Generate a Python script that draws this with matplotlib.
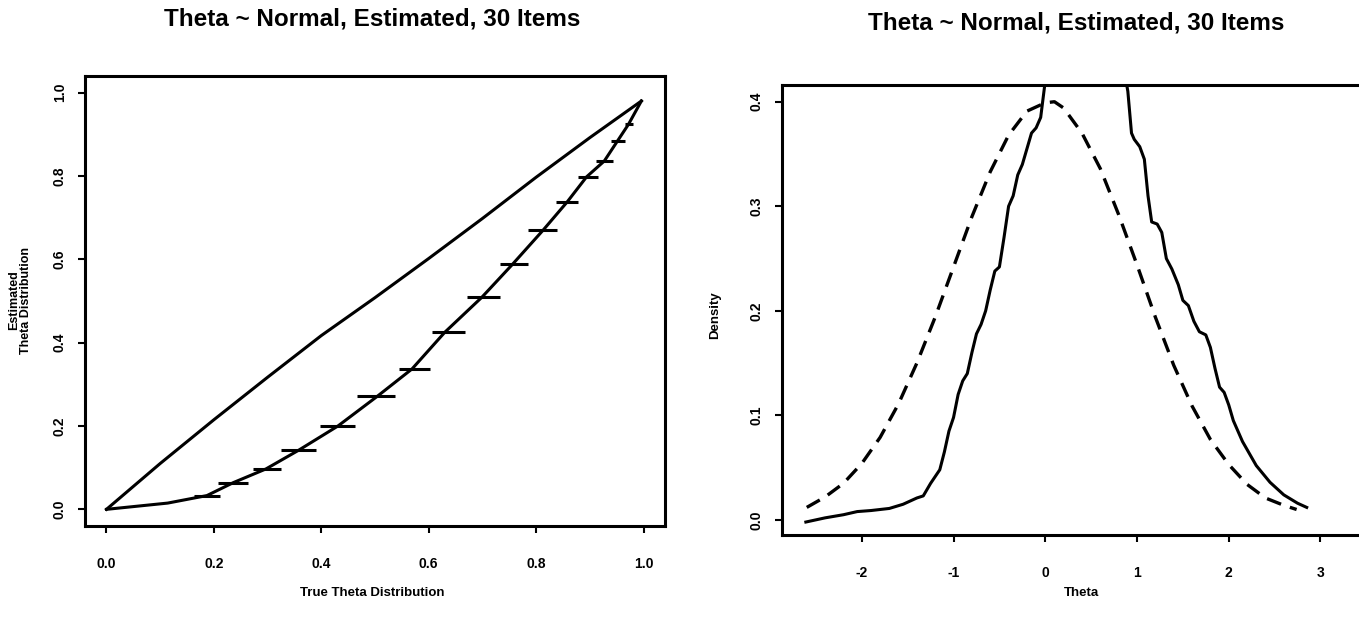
import numpy as np
import matplotlib
matplotlib.use("Agg")
import matplotlib.pyplot as plt

plt.rcParams["font.family"] = ["Liberation Sans", "DejaVu Sans"]
plt.rcParams["font.weight"] = "bold"

title = "Theta ~ Normal, Estimated, 30 Items"

# left panel: estimated vs true theta distribution
diag_x = [0.0, 0.1, 0.2, 0.3, 0.4, 0.5, 0.6, 0.7, 0.8, 0.9, 0.996]
diag_y = [0.0, 0.11, 0.215, 0.317, 0.417, 0.508, 0.602, 0.698, 0.797, 0.892, 0.98]

est_x = [0.0, 0.114, 0.187, 0.236, 0.297, 0.358, 0.431, 0.504, 0.569, 0.63,
         0.699, 0.756, 0.813, 0.858, 0.894, 0.927, 0.951, 0.972, 0.996]
est_y = [0.0, 0.015, 0.033, 0.064, 0.097, 0.142, 0.2, 0.271, 0.337, 0.425,
         0.509, 0.588, 0.67, 0.738, 0.798, 0.836, 0.883, 0.924, 0.98]
bar_lo = [0.0, 0.114, 0.163, 0.207, 0.272, 0.325, 0.398, 0.467, 0.545, 0.606,
          0.671, 0.732, 0.785, 0.837, 0.878, 0.911, 0.94, 0.965, 0.996]
bar_hi = [0.0, 0.114, 0.211, 0.264, 0.325, 0.39, 0.463, 0.537, 0.602, 0.667,
          0.732, 0.785, 0.839, 0.878, 0.915, 0.943, 0.965, 0.98, 0.996]

# right panel: densities
norm_x = [-2.6, -2.4, -2.2, -2.0, -1.8, -1.6, -1.4, -1.2, -1.0, -0.8, -0.6, -0.4,
          -0.2, 0.0, 0.1, 0.2, 0.4, 0.6, 0.8, 1.0, 1.2, 1.4, 1.6, 1.8, 2.0, 2.2,
          2.4, 2.6, 2.74]
norm_y = [0.012, 0.022, 0.035, 0.054, 0.079, 0.111, 0.15, 0.194, 0.242, 0.29,
          0.333, 0.368, 0.391, 0.399, 0.4, 0.394, 0.37, 0.336, 0.292, 0.244,
          0.194, 0.148, 0.109, 0.077, 0.053, 0.034, 0.021, 0.014, 0.01]

est_dx = [-2.61, -2.4, -2.2, -2.05, -1.9, -1.7, -1.55, -1.4, -1.33, -1.25, -1.15,
          -1.1, -1.05, -1.0, -0.95, -0.9, -0.85, -0.8, -0.75, -0.7, -0.65, -0.6,
          -0.55, -0.5, -0.45, -0.4, -0.35, -0.3, -0.25, -0.2, -0.15, -0.1, -0.05,
          0.0, 0.1, 0.3, 0.5, 0.7, 0.86, 0.9, 0.94, 0.97, 1.03, 1.08, 1.12, 1.16,
          1.22, 1.27, 1.32, 1.38, 1.45, 1.5, 1.56, 1.62, 1.68, 1.75, 1.8, 1.85,
          1.9, 1.95, 2.0, 2.05, 2.15, 2.3, 2.45, 2.6, 2.75, 2.85]
est_dy = [-0.002, 0.002, 0.005, 0.008, 0.009, 0.011, 0.015, 0.021, 0.023, 0.035,
          0.048, 0.065, 0.085, 0.098, 0.12, 0.133, 0.14, 0.16, 0.178, 0.187, 0.2,
          0.22, 0.238, 0.242, 0.27, 0.3, 0.31, 0.33, 0.34, 0.355, 0.37, 0.375,
          0.385, 0.42, 0.45, 0.48, 0.49, 0.46, 0.43, 0.41, 0.37, 0.364, 0.357,
          0.345, 0.31, 0.285, 0.283, 0.275, 0.25, 0.24, 0.225, 0.21, 0.205, 0.19,
          0.18, 0.177, 0.165, 0.145, 0.127, 0.122, 0.11, 0.095, 0.075, 0.052,
          0.036, 0.024, 0.016, 0.012]

W, H = 1359, 618
fig = plt.figure(figsize=(W / 100, H / 100), dpi=100)

def px_axes(l, r, t, b):
    return fig.add_axes([l / W, 1 - b / H, (r - l) / W, (b - t) / H])

def style(ax):
    for s in ax.spines.values():
        s.set_linewidth(2.2)
    ax.tick_params(direction="out", length=5, width=1.5, labelsize=10)
    ax.tick_params(axis="x", pad=17)
    ax.tick_params(axis="y", pad=8)
    for lab in ax.get_yticklabels():
        lab.set_rotation(90)
        lab.set_va("center")
    for lab in ax.get_xticklabels() + ax.get_yticklabels():
        lab.set_fontweight("bold")

# left
ax1 = px_axes(85, 665, 76, 526)
ax1.plot(diag_x, diag_y, color="black", lw=2.2)
ax1.plot(est_x, est_y, color="black", lw=2.2)
xerr = [np.array(est_x) - np.array(bar_lo), np.array(bar_hi) - np.array(est_x)]
ax1.errorbar(est_x, est_y, xerr=xerr, fmt="none", ecolor="black", elinewidth=2.2, capsize=0)
ax1.set_xlim(-0.04, 1.04)
ax1.set_ylim(-0.04, 1.04)
ax1.set_xticks([0, 0.2, 0.4, 0.6, 0.8, 1.0])
ax1.set_yticks([0, 0.2, 0.4, 0.6, 0.8, 1.0])
ax1.set_xticklabels(["0.0", "0.2", "0.4", "0.6", "0.8", "1.0"])
ax1.set_yticklabels(["0.0", "0.2", "0.4", "0.6", "0.8", "1.0"])
style(ax1)

# right
ax2 = px_axes(782, 1359, 85, 535)
ax2.plot(norm_x, norm_y, color="black", lw=2.4, ls=(0, (4.5, 2.8)))
ax2.plot(est_dx, est_dy, color="black", lw=2.2)
ax2.set_xlim(-2.87, 3.42)
ax2.set_ylim(-0.0144, 0.416)
ax2.set_xticks([-2, -1, 0, 1, 2, 3])
ax2.set_xticklabels(["-2", "-1", "0", "1", "2", "3"])
ax2.set_yticks([0, 0.1, 0.2, 0.3, 0.4])
ax2.set_yticklabels(["0.0", "0.1", "0.2", "0.3", "0.4"])
ax2.spines["right"].set_visible(False)
style(ax2)

fig.text(372 / W, 1 - 19 / H, title, ha="center", va="center", fontsize=17.5, fontweight="bold")
fig.text(1076 / W, 1 - 23 / H, title, ha="center", va="center", fontsize=17.5, fontweight="bold")
fig.text(20 / W, 1 - 300 / H, "Estimated\nTheta Distribution", rotation=90, ha="center",
         va="center", fontsize=9, fontweight="bold", linespacing=1.0)
fig.text(372 / W, 1 - 593 / H, "True Theta Distribution", ha="center", va="center",
         fontsize=9.5, fontweight="bold")
fig.text(715 / W, 1 - 315 / H, "Density", rotation=90, ha="center", va="center",
         fontsize=9.5, fontweight="bold")
fig.text(1082 / W, 1 - 593 / H, "Theta", ha="center", va="center", fontsize=9.5,
         fontweight="bold")

fig.savefig("out.png", dpi=100)
